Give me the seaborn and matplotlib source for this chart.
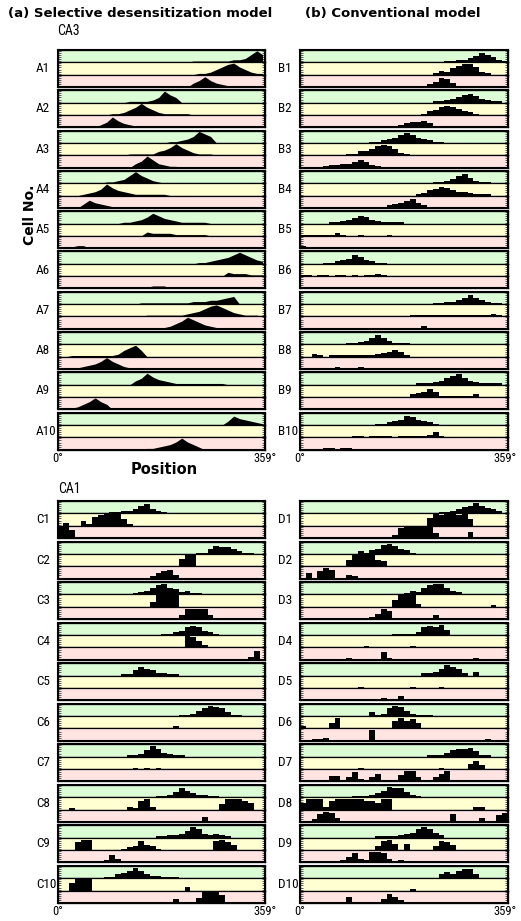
"""
Place-field style raster: CA3 / CA1 cell activity vs. position,
selective desensitization model (left) vs. conventional model (right).
Each panel = one cell, three stripes (green / yellow / pink) = three trials.
"""
import numpy as np
import seaborn as sns
import matplotlib.pyplot as plt
from matplotlib import font_manager

# ── Data: activity per 10-degree position bin (0-9 scale) ────────────────
# every stripe is a list of (first_bin, "heights") segments, bins 0..35
N_BINS = 36
CENTERS = np.arange(N_BINS) * 10 + 5

CA3_SELECTIVE = [
    ([(23, "1111111223696")], [(24, "112468964211")], [(23, "35853211")]),
    ([(12, "111124964")], [(9, "11246964211111")], [(7, "248532111111111111111111")]),
    ([(19, "11235975")], [(12, "111113469642111")], [(13, "35963211")]),
    ([(8, "1123696421")], [(4, "123596432111111")], [(4, "3643211")]),
    ([(11, "112358643211111")], [(15, "32222111111")], [(0, "11122")]),
    ([(24, "112345797532")], [(29, "3222111")], [(10, "111111222")]),
    ([(14, "11111111122233456")], [(15, "11111112346897532111")], [(18, "12469753211")]),
    ([], [(2, "1111111125795")], [(3, "1234696421111111111")]),
    ([(13, "3596432111111111")], [], [(1, "11246964")]),
    ([(29, "3754321")], [], [(15, "1123469642")]),
]

CA3_CONVENTIONAL = [
    ([(25, "11223576421")], [(23, "1325788621")], [(19, "111247631")]),
    ([(23, "112346753211")], [(21, "1346765321")], [(16, "123445311")]),
    ([(12, "1123468643211")], [(8, "11335787521")], [(4, "1223346421")]),
    ([(23, "1123674211")], [(20, "1245764332111")], [(12, "111234574211")]),
    ([(5, "1123465321111")], [(0, "1111112100100001")], [(0, "211"), (29, "101")]),
    ([(4, "11234753211")], [(0, "110110110101121")], [(2, "11"), (18, "1"), (33, "1")]),
    ([(23, "112235753211")], [(19, "1111111111111121")], [(16, "1101121011")]),
    ([(8, "11235753111")], [(2, "21011111111234541")], [(1, "10110210121")]),
    ([(20, "111235785321111")], [(19, "234641111112")], [(13, "1"), (17, "1"), (25, "11")]),
    ([(13, "11234764321")], [(9, "1101111011111241")], [(4, "11"), (7, "11")]),
]

CA1_SELECTIVE = [
    ([(9, "1122367321")], [(1, "2"), (4, "417899951")], [(0, "996111")]),
    ([(24, "1146554211")], [(21, "699")], [(16, "24673")]),
    ([(13, "123578542311")], [(16, "49999")], [(21, "388883")]),
    ([(18, "1123676321")], [(22, "9852")], [(33, "27")]),
    ([(11, "1147542211")], [], []),
    ([(21, "11246876311")], [(20, "2")], []),
    ([(12, "1125863211")], [(13, "10101")], []),
    ([(17, "11247532211")], [(2, "1"), (12, "21782"), (28, "488875")], [(25, "4"), (32, "1")]),
    ([(17, "1122358732321")], [(3, "688"), (11, "1237431"), (27, "7864")], [(8, "263")]),
    ([(8, "1134686322111")], [(2, "6999"), (22, "3")], [(0, "11"), (18, "113"), (24, "49996")]),
]

CA1_CONVENTIONAL = [
    ([(24, "11235686432")], [(22, "69899895")], [(16, "28999994111105")]),
    ([(10, "2134786431")], [(8, "5999954")], [(1, "4"), (3, "687"), (8, "32")]),
    ([(18, "1325788532")], [(16, "59992"), (33, "1")], [(8, "1011248611111"), (23, "31"), (33, "1")]),
    ([(16, "1111267684")], [(11, "1"), (19, "1")], [(8, "1"), (14, "61"), (30, "1")]),
    ([(21, "2235875203")], [(10, "1"), (19, "1"), (24, "1")], [(9, "1"), (13, "12"), (17, "3"), (20, "1")]),
    ([(12, "31268742111")], [(0, "2"), (5, "48"), (16, "68674")], [(2, "112"), (12, "8"), (32, "1")]),
    ([(22, "11135667411")], [(10, "1"), (24, "1"), (29, "463")],
     [(5, "44"), (8, "372"), (12, "36"), (17, "5883"), (23, "368")]),
    ([(9, "111235877421")], [(0, "5888278888877588"), (30, "22")],
     [(0, "1126873111"), (26, "61"), (31, "3"), (34, "57")]),
    ([(13, "111123478742")], [(13, "3785"), (18, "5"), (23, "3764")], [(7, "247328873"), (17, "2")]),
    ([(24, "3536773")], [(19, "1")], [(8, "51"), (13, "13752"), (19, "1")]),
]

STRIPE_COLORS = ["#dcfcd6", "#ffffd2", "#ffe4e2"]

# ── Layout (pixels of the 521 x 921 output) ──────────────────────────────
W, H = 521, 921
PANEL_W = 208
PANEL_H = 37
STRIPE_H = PANEL_H / 3
COL_X = [57.5, 300]
LABEL_X = [36, 278]
CA3_TOP, CA3_PITCH = 50, 40.3
CA1_TOP, CA1_PITCH = 501, 40.55

# narrow font for the cell labels, if one is installed
names = {f.name for f in font_manager.fontManager.ttflist}
NARROW = "DejaVu Sans"
for cand in ["Liberation Sans Narrow", "DejaVu Sans Condensed", "Roboto Condensed",
             "Open Sans Condensed", "Noto Sans Condensed"]:
    if cand in names:
        NARROW = cand
        break

sns.set_style("white")
plt.rcParams["font.family"] = ["DejaVu Sans"]
plt.rcParams["text.color"] = "black"


def stripe_heights(segments):
    h = np.zeros(N_BINS)
    for start, digits in segments:
        for k, ch in enumerate(digits):
            if start + k < N_BINS:
                h[start + k] = int(ch)
    return h


def px_box(x, top, w, h):
    return [x / W, 1 - (top + h) / H, w / W, h / H]


def draw_panel(fig, x, top, stripes, label, label_x, element):
    for s in range(3):
        ax = fig.add_axes(px_box(x, top + s * STRIPE_H, PANEL_W, STRIPE_H))
        ax.set_facecolor(STRIPE_COLORS[s])
        h = stripe_heights(stripes[s])
        if h.any():
            sns.histplot(x=CENTERS, weights=h, bins=N_BINS, binrange=(0, 360),
                         element=element, fill=True, color="black", alpha=1,
                         linewidth=0, ax=ax)
        ax.set_xlim(0, 360)
        ax.set_ylim(0, 9.6)
        ax.set_xticks([])
        ax.set_yticks(np.linspace(0.8, 8.8, 6))
        ax.tick_params(axis="y", direction="in", length=2.2, width=0.5,
                       left=True, right=True, labelleft=False)
        ax.set_xlabel("")
        ax.set_ylabel("")
        for sp in ax.spines.values():
            sp.set_linewidth(0.9)
            sp.set_color("black")
    frame = fig.add_axes(px_box(x, top, PANEL_W, PANEL_H))
    frame.patch.set_visible(False)
    frame.set_xticks([])
    frame.set_yticks([])
    for sp in frame.spines.values():
        sp.set_linewidth(1.5)
        sp.set_color("black")
    fig.text(label_x / W, 1 - (top + PANEL_H / 2) / H, label, ha="left", va="center",
             fontsize=9.5, family=NARROW, fontstretch="condensed")


def ptext(fig, x, y, s, **kw):
    fig.text(x / W, 1 - y / H, s, **kw)


# ── Plot ─────────────────────────────────────────────────────────────────
fig = plt.figure(figsize=(W / 100, H / 100), dpi=100)
fig.patch.set_facecolor("white")

for i in range(10):
    draw_panel(fig, COL_X[0], CA3_TOP + i * CA3_PITCH, CA3_SELECTIVE[i], f"A{i + 1}", LABEL_X[0], "poly")
    draw_panel(fig, COL_X[1], CA3_TOP + i * CA3_PITCH, CA3_CONVENTIONAL[i], f"B{i + 1}", LABEL_X[1], "step")
    draw_panel(fig, COL_X[0], CA1_TOP + i * CA1_PITCH, CA1_SELECTIVE[i], f"C{i + 1}", LABEL_X[0], "step")
    draw_panel(fig, COL_X[1], CA1_TOP + i * CA1_PITCH, CA1_CONVENTIONAL[i], f"D{i + 1}", LABEL_X[1], "step")

# headers
ptext(fig, 8, 13, "(a) Selective desensitization model", ha="left", va="center",
      fontsize=9.5, fontweight="bold")
ptext(fig, 305, 13, "(b) Conventional model", ha="left", va="center",
      fontsize=9.5, fontweight="bold")
narrow = dict(family=NARROW, fontstretch="condensed")
ptext(fig, 57, 31, "CA3", ha="left", va="center", fontsize=10, **narrow)
ptext(fig, 58, 489, "CA1", ha="left", va="center", fontsize=10, **narrow)

# axis labels
ptext(fig, 30, 215, "Cell No.", ha="center", va="center", rotation=90,
      fontsize=10, fontweight="bold")
ptext(fig, 164, 469, "Position", ha="center", va="center", fontsize=10.5, fontweight="bold")

# position ticks under the last panels
for y in (458, 911):
    ptext(fig, 58, y, "0°", ha="center", va="center", fontsize=9, **narrow)
    ptext(fig, 265, y, "359°", ha="center", va="center", fontsize=9, **narrow)
    ptext(fig, 300, y, "0°", ha="center", va="center", fontsize=9, **narrow)
    ptext(fig, 505, y, "359°", ha="center", va="center", fontsize=9, **narrow)

fig.savefig("out.png", dpi=100, facecolor="white")
plt.close(fig)
